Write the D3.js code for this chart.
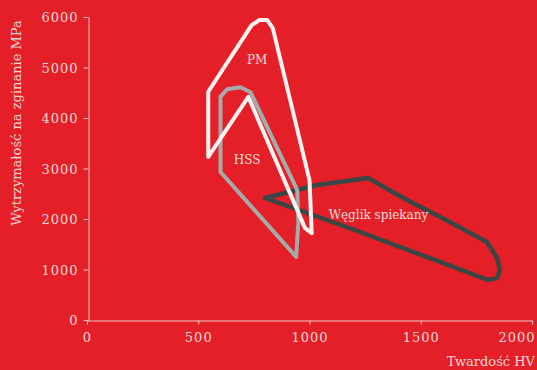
<!DOCTYPE html>
<html><head><meta charset="utf-8">
<script src="https://cdn.jsdelivr.net/npm/d3@7"></script>
<style>
html,body{margin:0;padding:0;background:#e41f27;}
svg{display:block;}
text{font-family:"DejaVu Serif",serif;}
</style></head>
<body><svg id="c" width="537" height="370"></svg>
<script>
// Data (hardness HV, bending strength MPa)
const xTicks = [0, 500, 1000, 1500, 2000];
const yTicks = [0, 1000, 2000, 3000, 4000, 5000, 6000];
const pmX = [545, 545, 740, 775, 810, 835, 1000, 1010, 980, 725];
const pmY = [3230, 4520, 5840, 5940, 5940, 5780, 2770, 1720, 1820, 4420];
const hssX = [600, 600, 630, 690, 735, 945, 950, 940];
const hssY = [2930, 4420, 4570, 4610, 4510, 2570, 1940, 1250];
const carbX = [800, 1034, 1263, 1438, 1631, 1798, 1843, 1856, 1843, 1802, 1587, 1204];
const carbY = [2416, 2673, 2812, 2376, 1941, 1545, 1228, 990, 832, 792, 1149, 1782];
const labels = ["PM", "HSS", "Węglik spiekany"];
const labelX = [765, 720, 1310];
const labelY = [5150, 3180, 2080];

const svg = d3.select("#c");
const x = d3.scaleLinear().domain([0, 2000]).range([87, 532]);
const y = d3.scaleLinear().domain([0, 6000]).range([320, 17]);
const axisCol = "#f2c4c4", textCol = "#f6d8d6";

const xa = svg.append("g").attr("transform", "translate(0,320.5)")
  .call(d3.axisBottom(x).tickValues(xTicks).tickFormat(d3.format("d"))
    .tickSize(4).tickPadding(8).tickSizeOuter(4));
const ya = svg.append("g").attr("transform", "translate(88.5,0)")
  .call(d3.axisLeft(y).tickValues(yTicks).tickFormat(d3.format("d"))
    .tickSize(5).tickPadding(5).tickSizeOuter(0));
[xa, ya].forEach(a => {
  a.selectAll("path,line").attr("stroke", axisCol).attr("stroke-width", 1);
  a.selectAll("text").attr("fill", textCol).attr("font-size", 13)
    .attr("font-family", "DejaVu Serif, serif").attr("letter-spacing", 1);
});
ya.selectAll("text").attr("dy", "0.35em");
xa.selectAll(".tick text").filter(d => d === 2000)
  .attr("text-anchor", "end").attr("x", 3);

svg.append("text").attr("transform", "translate(21,123) rotate(-90)")
  .attr("text-anchor", "middle").attr("fill", textCol).attr("font-size", 13)
  .text("Wytrzymałość na zginanie MPa");
svg.append("text").attr("x", 535).attr("y", 366).attr("text-anchor", "end")
  .attr("fill", textCol).attr("font-size", 13).text("Twardość HV");

const line = d3.line().x(d => x(d[0])).y(d => y(d[1])).curve(d3.curveLinearClosed);
const shapes = [
  {xs: carbX, ys: carbY, col: "#3b4745", w: 4.5},
  {xs: hssX, ys: hssY, col: "#a3abab", w: 4},
  {xs: pmX, ys: pmY, col: "#f7f2f0", w: 4}
];
shapes.forEach(s => {
  svg.append("path").datum(d3.zip(s.xs, s.ys)).attr("d", line)
    .attr("fill", "none").attr("stroke", s.col).attr("stroke-width", s.w)
    .attr("stroke-linejoin", "round");
});
labels.forEach((t, i) => {
  svg.append("text").attr("x", x(labelX[i])).attr("y", y(labelY[i]))
    .attr("text-anchor", "middle").attr("dy", "0.35em")
    .attr("fill", "#f6dcd8").attr("font-size", 12).text(t);
});
</script></body></html>
